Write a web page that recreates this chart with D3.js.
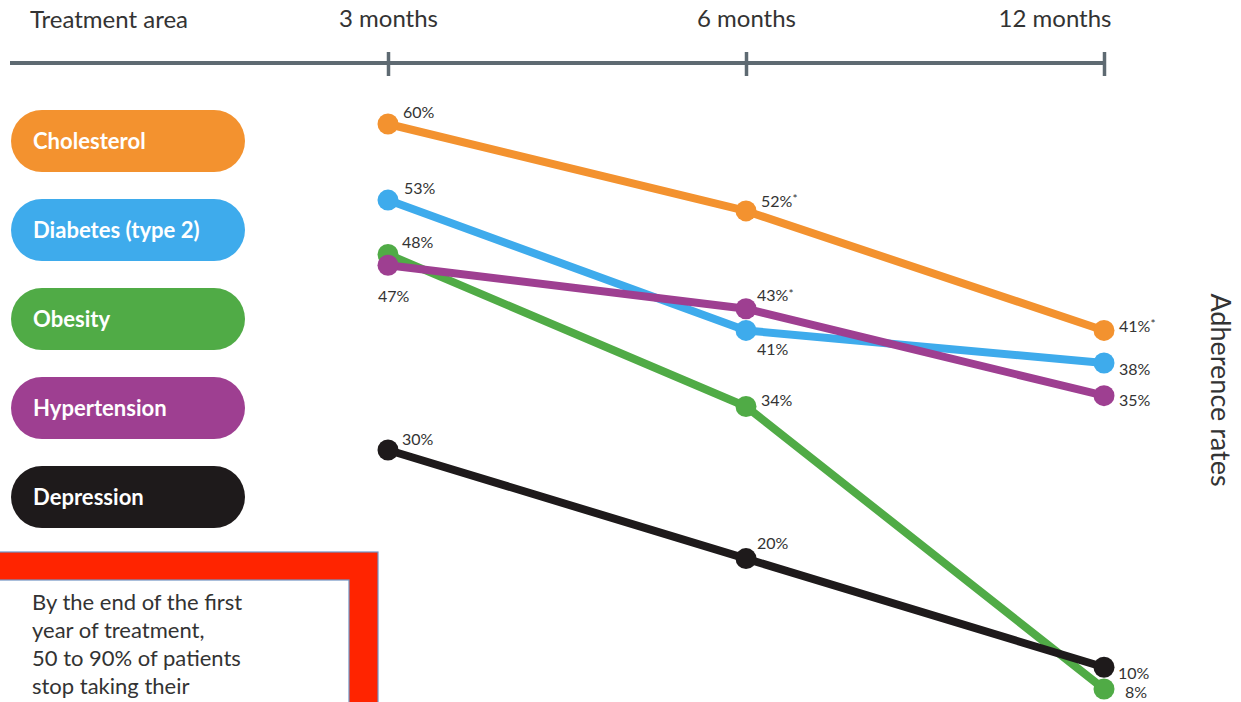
<!DOCTYPE html>
<html>
<head>
<meta charset="utf-8">
<script src="https://cdn.jsdelivr.net/npm/d3@7"></script>
<style>
  html, body { margin: 0; padding: 0; background: #ffffff; }
  svg { display: block; }
</style>
</head>
<body>
<svg id="chart" width="1241" height="702"></svg>
<script>
// Adherence rates by treatment area over the first year
const periods = ["3 months", "6 months", "12 months"];
const areas = ["Cholesterol", "Diabetes (type 2)", "Obesity", "Hypertension", "Depression"];
const cholesterol = [60, 52, 41];
const diabetes = [53, 41, 38];
const obesity = [48, 34, 8];
const hypertension = [47, 43, 35];
const depression = [30, 20, 10];
// Values marked with an asterisk in the labels
const cholesterolStar = [false, true, true];
const diabetesStar = [false, false, false];
const obesityStar = [false, false, false];
const hypertensionStar = [false, true, false];
const depressionStar = [false, false, false];
const noteLines = ["By the end of the first", "year of treatment,", "50 to 90% of patients", "stop taking their"];

const seriesValues = [cholesterol, diabetes, obesity, hypertension, depression];
const seriesStars = [cholesterolStar, diabetesStar, obesityStar, hypertensionStar, depressionStar];
const colors = ["#f3922f", "#3eabec", "#50ab46", "#9e3f91", "#1e1a1b"];

// label placement (dx, dy) relative to each point
const labelOffsets = [
  [[15, -12], [15, -10], [15, -4]],
  [[16, -12], [11, 19], [15, 6]],
  [[14, -12], [15, -6], [21, 3]],
  [[-10, 31], [11, -13], [15, 5]],
  [[14, -11], [11, -15], [14, 6]]
];

const svg = d3.select("#chart");
const textFont = "Lato, 'Open Sans', sans-serif";

const x = d3.scalePoint().domain(periods).range([388, 1104]);
const y = d3.scaleLinear().domain([8, 60]).range([689, 124]);

// top axis
const axisY = 63;
svg.append("line")
  .attr("x1", 10).attr("x2", x(periods[periods.length - 1]))
  .attr("y1", axisY).attr("y2", axisY)
  .attr("stroke", "#5e6a72").attr("stroke-width", 4);

const axis = d3.axisTop(x).tickSize(0).tickPadding(0);
const axisG = svg.append("g").attr("transform", `translate(0,${axisY})`).call(axis);
axisG.select(".domain").remove();
axisG.selectAll(".tick line").remove();
axisG.selectAll(".tick").append("line")
  .attr("y1", -11).attr("y2", 13)
  .attr("stroke", "#5e6a72").attr("stroke-width", 3.5);
axisG.selectAll(".tick text")
  .attr("y", -44)
  .attr("dy", "0.35em")
  .attr("fill", "#333333")
  .style("font-family", textFont)
  .style("font-size", "24px");
// last period label sits flush with the end of the axis
axisG.selectAll(".tick text")
  .filter((d, i, n) => i === n.length - 1)
  .attr("text-anchor", "end")
  .attr("x", 7);

svg.append("text")
  .attr("x", 30).attr("y", 28)
  .attr("fill", "#333333")
  .style("font-family", textFont)
  .style("font-size", "24px")
  .text("Treatment area");

// legend pills
const legendY = d3.scalePoint().domain(areas).range([141, 497]);
const legend = svg.append("g");
areas.forEach((name, i) => {
  const cy = legendY(name);
  legend.append("rect")
    .attr("x", 11).attr("y", cy - 31)
    .attr("width", 234).attr("height", 62)
    .attr("rx", 31).attr("ry", 31)
    .attr("fill", colors[i]);
  legend.append("text")
    .attr("transform", `translate(33,${cy}) scale(0.96,1)`)
    .attr("dy", "0.35em")
    .attr("fill", "#ffffff")
    .style("font-family", textFont)
    .style("font-weight", "bold")
    .style("font-size", "23px")
    .text(name);
});

// lines and points
const line = d3.line()
  .x((d, i) => x(periods[i]))
  .y(d => y(d));

seriesValues.forEach((vals, s) => {
  const g = svg.append("g");
  g.append("path")
    .datum(vals)
    .attr("d", line)
    .attr("fill", "none")
    .attr("stroke", colors[s])
    .attr("stroke-width", 8)
    .attr("stroke-linejoin", "round");
  g.selectAll("circle")
    .data(vals)
    .join("circle")
    .attr("cx", (d, i) => x(periods[i]))
    .attr("cy", d => y(d))
    .attr("r", 10.5)
    .attr("fill", colors[s]);
});

// value labels
seriesValues.forEach((vals, s) => {
  vals.forEach((v, i) => {
    const [dx, dy] = labelOffsets[s][i];
    const t = svg.append("text")
      .attr("x", x(periods[i]) + dx)
      .attr("y", y(v) + dy)
      .attr("dy", "0.35em")
      .attr("fill", "#333333")
      .style("font-family", textFont)
      .style("font-size", "16px")
      .text(v + "%");
    if (seriesStars[s][i]) {
      t.append("tspan")
        .attr("dy", "-0.3em")
        .style("font-size", "12px")
        .text("*");
    }
  });
});

// axis title on the right
svg.append("text")
  .attr("transform", "translate(1211,390) rotate(90)")
  .attr("text-anchor", "middle")
  .attr("fill", "#333333")
  .style("font-family", textFont)
  .style("font-size", "27px")
  .text("Adherence rates");

// callout box
const note = svg.append("g");
note.append("rect")
  .attr("x", -4).attr("y", 552)
  .attr("width", 382).attr("height", 160)
  .attr("fill", "#ff2400")
  .attr("stroke", "#7193c4").attr("stroke-width", 1.2);
note.append("rect")
  .attr("x", -4).attr("y", 580)
  .attr("width", 353).attr("height", 140)
  .attr("fill", "#ffffff")
  .attr("stroke", "#7193c4").attr("stroke-width", 1.2);
note.selectAll("text.note")
  .data(noteLines)
  .join("text")
  .attr("class", "note")
  .attr("x", 32)
  .attr("y", (d, i) => 602 + i * 28)
  .attr("dy", "0.35em")
  .attr("fill", "#333333")
  .style("font-family", textFont)
  .style("font-size", "22px")
  .text(d => d);
</script>
</body>
</html>
